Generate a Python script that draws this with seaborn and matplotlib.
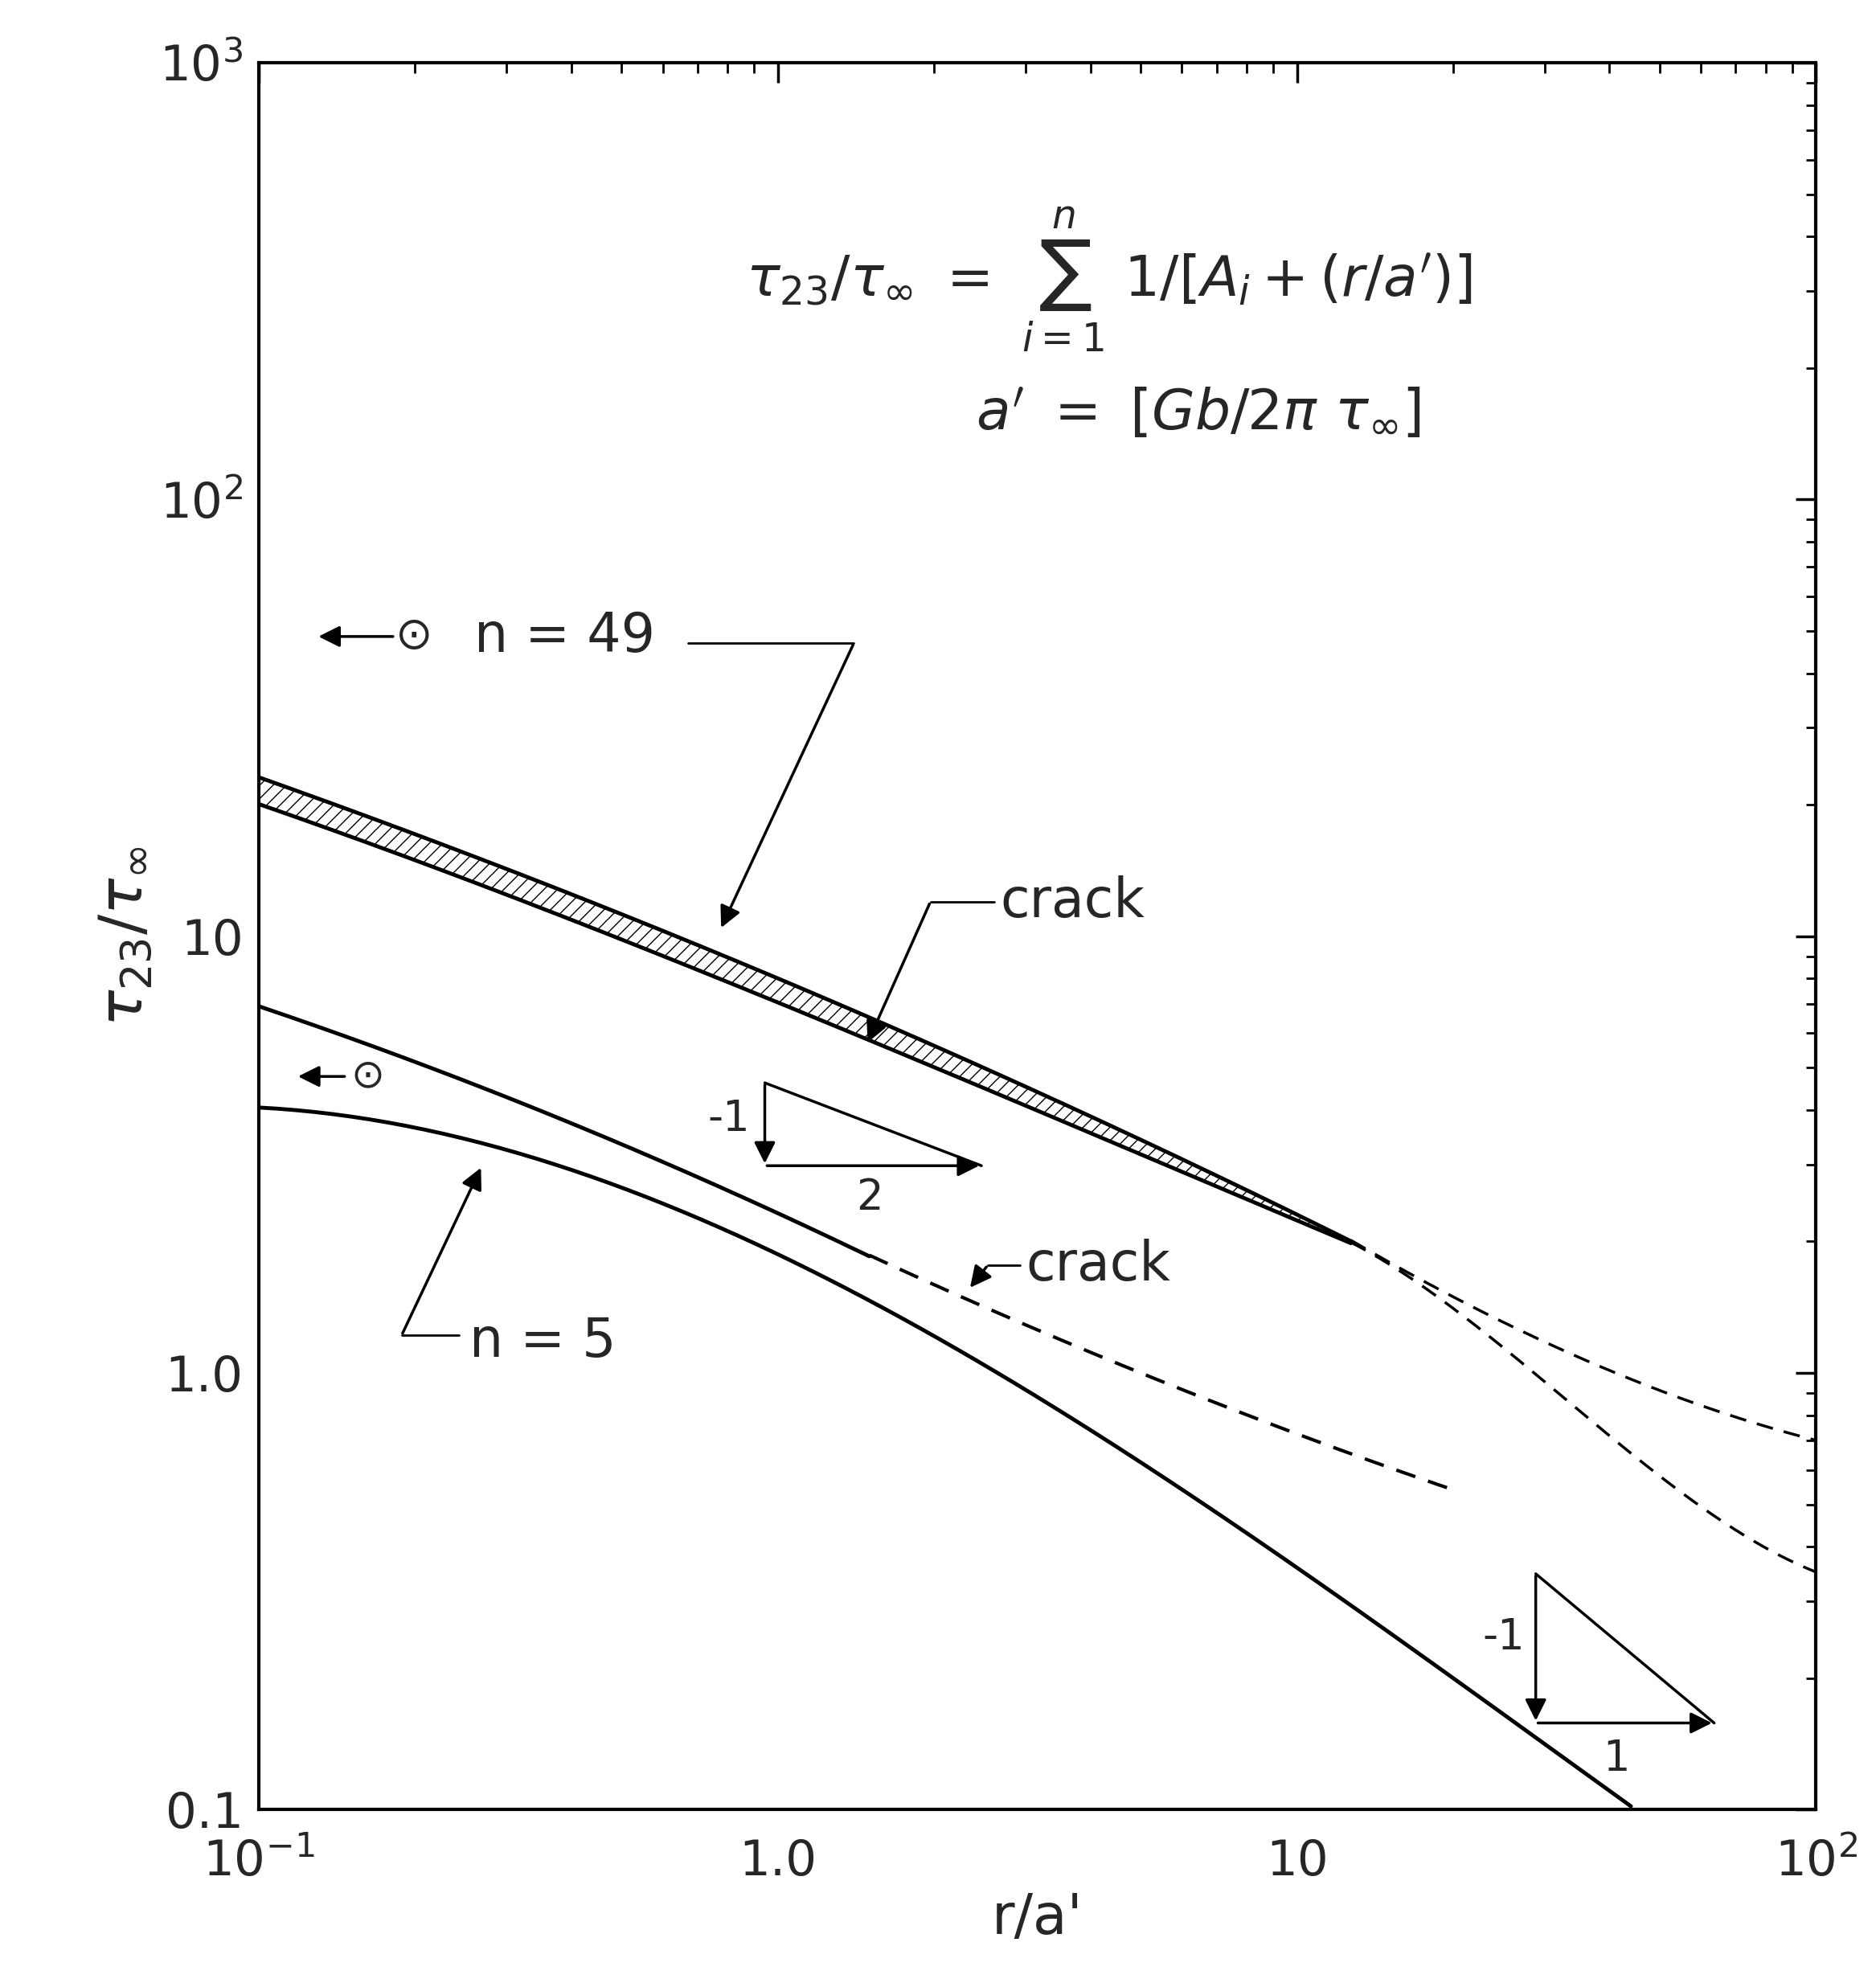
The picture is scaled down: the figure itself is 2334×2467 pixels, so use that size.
import numpy as np
import matplotlib
matplotlib.use("Agg")
import matplotlib.pyplot as plt
import seaborn as sns

sns.set_theme(style="white")
plt.rcParams['font.family'] = ['DejaVu Sans']
plt.rcParams['mathtext.fontset'] = 'dejavusans'

# n=49 band
band_x = [0.1, 0.3, 1.0, 3.0, 10.0, 12.7]
band_top = [23.0, 14.5, 7.8, 4.6, 2.3, 2.0]
band_bot = [20.0, 12.6, 6.9, 4.17, 2.2, 2.0]
# n=49 dashed continuations
up_dash_x = [12.7, 17.0, 30.0, 50.0, 100.0]
up_dash_y = [2.0, 1.68, 1.16, 0.92, 0.70]
lo_dash_x = [12.7, 20.0, 30.0, 50.0, 70.0, 100.0]
lo_dash_y = [2.0, 1.38, 0.98, 0.57, 0.44, 0.35]
# n=5 crack
crack5_x = [0.1, 0.3, 1.0, 1.5]
crack5_y = [6.9, 4.3, 2.3, 1.86]
crack5_dash_x = [1.5, 5.0, 20.0]
crack5_dash_y = [1.86, 1.0, 0.54]
# n=5 solid
n5_x = [0.1, 0.2, 0.3, 0.5, 1.0, 2.0, 3.0, 5.0, 10.0, 20.0, 30.0, 44.0]
n5_y = [4.1, 3.65, 3.2, 2.6, 1.8, 1.3, 0.95, 0.64, 0.32, 0.2, 0.15, 0.1]

fig = plt.figure(figsize=(23.34, 24.67), dpi=100)
ax = fig.add_axes([0.138, 0.0874, 0.830, 0.881])
ax.set_xscale('log'); ax.set_yscale('log')
ax.set_xlim(0.1, 100); ax.set_ylim(0.1, 1000)
lw = 3.5

def smooth(xs, ys, deg=3, n=150):
    lx = np.log10(xs); ly = np.log10(ys)
    t = np.linspace(lx[0], lx[-1], n)
    d = min(deg, len(xs) - 1)
    c = np.polyfit(lx, ly, d)
    return 10**t, 10**np.polyval(c, t)

tx, tt = smooth(band_x, band_top); _, tb = smooth(band_x, band_bot)
ax.fill_between(tx, tb, tt, facecolor='white', edgecolor='black', hatch='//', linewidth=0)
def line(xs, ys, deg=3, **kw):
    sx, sy = smooth(xs, ys, deg)
    sns.lineplot(x=sx, y=sy, ax=ax, color='black', sort=False, **kw)
line(band_x, band_top, lw=lw)
line(band_x, band_bot, lw=lw)
line(up_dash_x, up_dash_y, lw=2.5, linestyle=(0, (6, 4)))
line(lo_dash_x, lo_dash_y, lw=2.5, linestyle=(0, (6, 4)))
line(crack5_x, crack5_y, deg=2, lw=lw)
line(crack5_dash_x, crack5_dash_y, deg=2, lw=3, linestyle=(0, (6, 4)))
line(n5_x, n5_y, lw=lw)

def P(px, py):
    return 10**((px-203)/407.3 - 1), 10**((1420-py)/342.5 - 1)

ap = dict(arrowstyle='-|>', color='black', lw=2.5, mutation_scale=40)
for (x0, y0, x1, y1) in [(*P(600, 850), *P(770, 915)), (*P(1205, 1235), *P(1345, 1352))]:
    ax.plot([x0, x1], [y0, y1], color='black', lw=2.5)
    ax.annotate('', xy=(x0, y1), xytext=(x0, y0), arrowprops=ap)
    ax.annotate('', xy=(x1, y1), xytext=(x0, y1), arrowprops=ap)
fs = 48
def T(px, py, s, **kw):
    ax.text(*P(px, py), s, fontsize=kw.pop('fs', fs), ha=kw.pop('ha', 'center'), va='center', **kw)
T(572, 878, '-1', fs=38); T(682, 940, '2', fs=38)
T(1180, 1285, '-1', fs=38); T(1268, 1380, '1', fs=38)
T(372, 500, 'n = 49', ha='left')
T(323, 500, r'$\odot$', fs=40)
ax.annotate('', xy=P(248, 500), xytext=P(310, 500), arrowprops=ap)
ax.plot(*zip(P(540, 505), P(670, 505)), color='black', lw=2)
ax.annotate('', xy=P(565, 730), xytext=P(670, 505), arrowprops=ap)
T(785, 708, 'crack', ha='left')
ax.plot(*zip(P(780, 708), P(730, 708)), color='black', lw=2)
ax.annotate('', xy=P(680, 820), xytext=P(730, 708), arrowprops=ap)
T(287, 845, r'$\odot$', fs=36)
ax.annotate('', xy=P(232, 845), xytext=P(272, 845), arrowprops=ap)
T(805, 993, 'crack', ha='left')
ax.plot(*zip(P(800, 993), P(775, 993)), color='black', lw=2)
ax.annotate('', xy=P(760, 1012), xytext=P(775, 993), arrowprops=ap)
T(368, 1053, 'n = 5', ha='left')
ax.plot(*zip(P(360, 1048), P(315, 1048)), color='black', lw=2)
ax.annotate('', xy=P(378, 915), xytext=P(315, 1048), arrowprops=ap)
T(870, 220, r'$\tau_{23}/\tau_\infty\ =\ \sum_{i=1}^{n}\ 1/[A_i+(r/a^{\prime})]$', fs=50)
T(940, 325, r"$a^{\prime}\ =\ [Gb/2\pi\ \tau_\infty]$", fs=50)

ax.set_xticks([0.1, 1, 10, 100]); ax.set_xticklabels([r'10$^{-1}$', '1.0', '10', r'10$^2$'])
ax.set_yticks([0.1, 1, 10, 100, 1000]); ax.set_yticklabels(['0.1', '1.0', '10', r'10$^2$', r'10$^3$'])
ax.tick_params(which='both', direction='in', top=True, right=True, labelsize=44, color='black')
ax.tick_params(which='major', length=18, width=2.5, pad=14)
ax.tick_params(axis='x', which='major', pad=26)
ax.tick_params(which='minor', length=9, width=2)
ax.set_xlabel("r/a'", fontsize=50)
ax.set_ylabel(r'$\tau_{23}/\tau_\infty$', fontsize=54)
for s in ax.spines.values():
    s.set_color('black'); s.set_linewidth(3)
fig.savefig('out.png', dpi=100, facecolor='white')
